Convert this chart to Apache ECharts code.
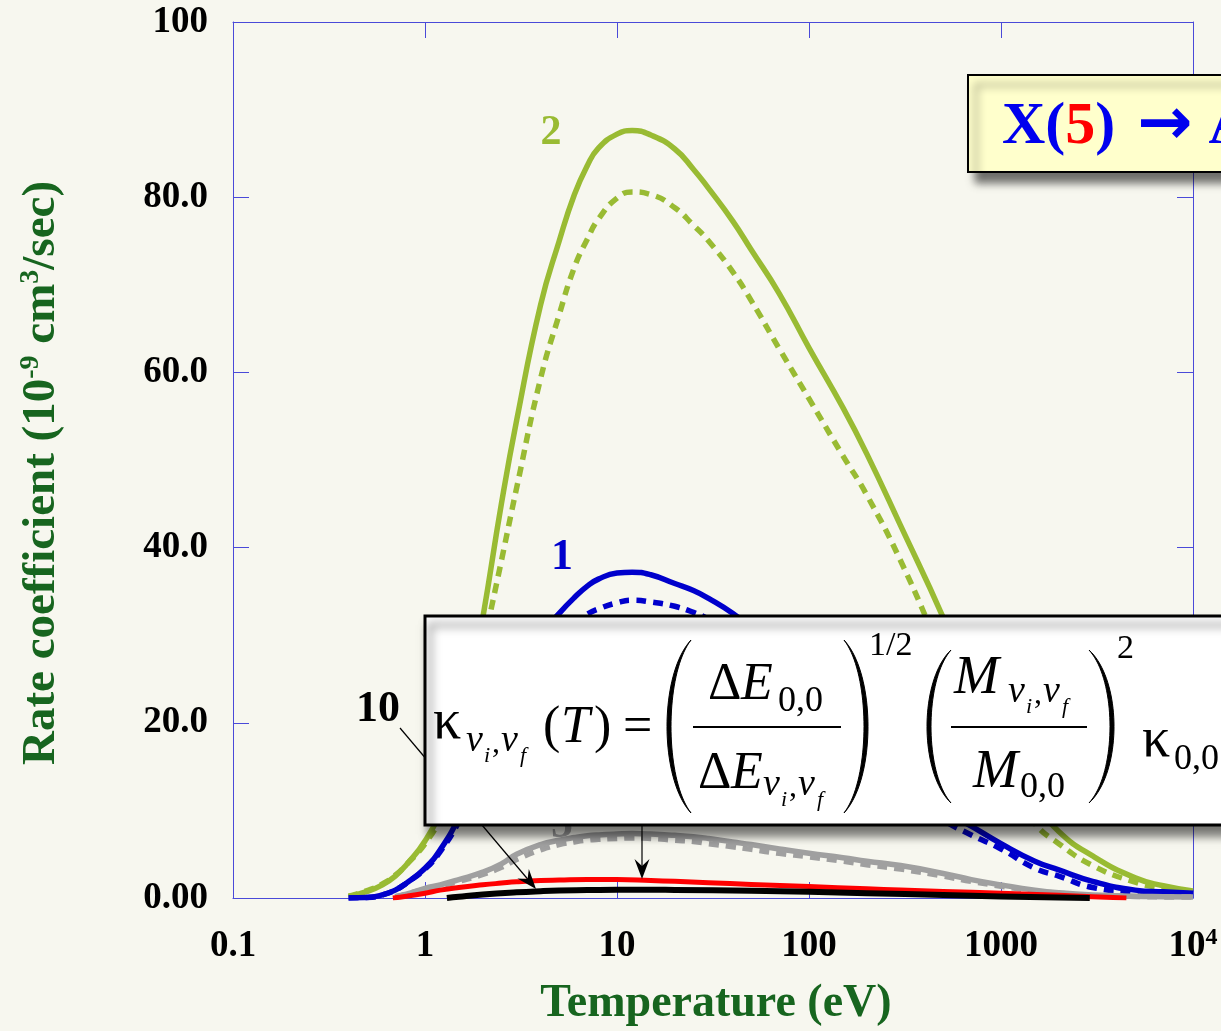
<!DOCTYPE html>
<html><head><meta charset="utf-8">
<script src="https://cdn.jsdelivr.net/npm/echarts@6/dist/echarts.min.js"></script>
<style>html,body{margin:0;padding:0;background:#f7f7ef}#c{width:1221px;height:1031px}</style>
</head><body><div id="c"></div>
<script>
// ---- data ----
const temps = [0.4, 0.5, 0.6, 0.7, 0.8, 1, 1.2, 1.5, 2, 2.5, 3, 4, 5, 6, 7, 8, 10, 12, 15, 20, 25, 30, 40, 50, 70, 100, 150, 200, 300, 500, 700, 1000, 1500, 2000, 3000, 5000, 7000, 10000];
const green2Solid = [0.15, 0.75, 1.5, 2.5, 3.8, 6.5, 10, 17, 32, 45, 54.5, 67.7, 75, 80.3, 83.6, 85.6, 87.2, 87.6, 87.1, 85.5, 83.2, 81.0, 77.3, 74.0, 69.0, 62.8, 56.0, 50.7, 42.5, 32.0, 24.0, 17.0, 11.0, 7.6, 4.8, 2.3, 1.4, 0.8];
const green2Dash  = [0.2, 0.85, 1.6, 2.6, 3.8, 6.2, 9.2, 15.5, 28.5, 38.5, 46.8, 59.3, 66.6, 72.0, 75.2, 77.5, 79.9, 80.6, 80.3, 78.8, 76.8, 75.0, 71.5, 68.2, 62.7, 57.0, 50.5, 46.0, 38.5, 27.5, 20.5, 14.0, 8.5, 6.2, 3.7, 1.8, 1.1, 0.6];
const blue1Solid  = [0, 0.05, 0.35, 0.9, 1.7, 3.4, 5.5, 9.2, 15.5, 21, 25, 30, 32.5, 34.3, 35.6, 36.4, 37.1, 37.2, 36.9, 35.9, 35.1, 34.2, 32.5, 30.8, 27.8, 24.5, 20.5, 17.5, 13.8, 10.0, 8.2, 6.2, 4.2, 3.2, 1.9, 0.9, 0.7, 0.55];
const blue1Dash   = [0, 0.05, 0.35, 0.9, 1.7, 3.3, 5.3, 8.7, 14.3, 19.3, 22.8, 27.3, 29.8, 31.4, 32.4, 33.0, 33.7, 34.0, 33.8, 33.3, 32.6, 31.8, 30.0, 28.3, 25.5, 22.3, 18.5, 15.8, 12.3, 8.9, 7.2, 5.6, 3.4, 2.5, 1.2, 0.7, 0.55, 0.45];
const gray5Solid  = [null, null, null, 0.15, 0.45, 1.1, 1.5, 2.1, 2.95, 3.9, 5.0, 6.1, 6.6, 6.9, 7.1, 7.2, 7.3, 7.35, 7.3, 7.15, 7.0, 6.8, 6.4, 6.1, 5.6, 5.1, 4.6, 4.2, 3.7, 2.8, 2.1, 1.5, 0.9, 0.6, 0.35, 0.2, 0.15, 0.1];
const gray5Dash   = [null, null, null, 0.15, 0.45, 1.0, 1.4, 1.9, 2.7, 3.5, 4.4, 5.5, 6.1, 6.4, 6.6, 6.7, 6.8, 6.85, 6.8, 6.6, 6.45, 6.2, 5.85, 5.55, 5.1, 4.7, 4.2, 3.8, 3.3, 2.5, 1.9, 1.35, 0.8, 0.55, 0.3, 0.18, 0.12, 0.1];
const redT   = [0.68, 0.8, 1, 1.2, 1.5, 2, 2.5, 3, 4, 5, 7, 10, 15, 20, 30, 50, 100, 200, 300, 500, 1000, 2000, 3000, 4500];
const redV   = [0, 0.2, 0.55, 0.9, 1.2, 1.5, 1.7, 1.85, 2.0, 2.05, 2.1, 2.1, 2.0, 1.9, 1.75, 1.55, 1.3, 1.05, 0.9, 0.75, 0.55, 0.3, 0.15, 0];
const blackT = [1.3, 1.5, 2, 3, 4, 5, 7, 10, 15, 20, 50, 100, 200, 500, 1000, 2000, 2900];
const blackV = [0, 0.15, 0.4, 0.65, 0.78, 0.85, 0.9, 0.95, 0.95, 0.92, 0.82, 0.7, 0.55, 0.35, 0.18, 0.06, 0];
const xTickLabels = ['0.1', '1', '10', '100', '1000', '10{sup|4}'];
const yTickLabels = ['0.00', '20.0', '40.0', '60.0', '80.0', '100'];

// ---- styling ----
const SERIF = '"Liberation Serif","Times New Roman",serif';
const FRAME = '#4a4ad8';
const GREEN = '#99bb33', BLUE = '#0000cc', GRAY = '#a0a0a0', RED = '#ff0000', BLACK = '#000000';
const TITLE_GREEN = '#17651f';

const pairs = (xs, ys) => xs.map((x, i) => [x, ys[i]]).filter(p => p[1] !== null);
function ser(data, color, dashed, w) {
  return { type: 'line', data, showSymbol: false, symbol: 'none', smooth: 0.5, silent: true,
    z: 2, lineStyle: { color, width: w || 5.5, type: dashed ? [10, 7] : 'solid', cap: 'butt', join: 'round' } };
}

function txt(x, base, s, str, o) {
  o = o || {};
  return { type: 'text', z: o.z || 40, silent: true, style: {
    x: x, y: base - 0.34 * s, text: str, fill: o.fill || '#000',
    font: (o.it ? 'italic ' : '') + (o.bold ? 'bold ' : '') + s + 'px ' + (o.family || SERIF),
    align: o.align || 'left', textAlign: o.align || 'left', verticalAlign: 'middle', textVerticalAlign: 'middle' } };
}
// subscript "v_i,v_f"
function vivf(x, base, z) {
  return [
    txt(x, base, 38, 'v', { it: 1, z }), txt(x + 18, base + 10, 22, 'i', { it: 1, z }),
    txt(x + 26, base, 32, ',', { z }), txt(x + 35, base, 38, 'v', { it: 1, z }),
    txt(x + 54, base + 10, 22, 'f', { it: 1, z })
  ];
}
function paren(xe, yTop, yBot, xb, t) {
  const dir = xb < xe ? 1 : -1;
  const h = yBot - yTop;
  const c1 = (xb - 0.25 * xe) / 0.75;
  const c2 = (xb + dir * t - 0.25 * xe) / 0.75;
  const y1 = yTop + 0.2 * h, y2 = yBot - 0.2 * h;
  const cub = (p0, p1, p2, p3, u) => (1 - u) ** 3 * p0 + 3 * (1 - u) ** 2 * u * p1 + 3 * (1 - u) * u * u * p2 + u ** 3 * p3;
  const pts = [];
  for (let k = 0; k <= 40; k++) { const u = k / 40; pts.push([cub(xe, c1, c1, xe, u), cub(yTop, y1, y2, yBot, u)]); }
  for (let k = 40; k >= 0; k--) { const u = k / 40; pts.push([cub(xe, c2, c2, xe, u), cub(yTop, y1, y2, yBot, u)]); }
  return { type: 'polygon', z: 40, silent: true, shape: { points: pts }, style: { fill: '#000', stroke: '#000', lineWidth: 1 } };
}
function arrowHead(tx, ty, dx, dy, z) {
  const L = Math.hypot(dx, dy); dx /= L; dy /= L;
  const nx = -dy, ny = dx, len = 20, half = 7.5, notch = 13;
  return { type: 'polygon', z, silent: true, shape: { points: [
    [tx, ty], [tx - len * dx + half * nx, ty - len * dy + half * ny],
    [tx - notch * dx, ty - notch * dy], [tx - len * dx - half * nx, ty - len * dy - half * ny]] },
    style: { fill: '#000' } };
}

const axisCommon = {
  axisLine: { show: true, onZero: false, lineStyle: { color: FRAME, width: 1 } },
  axisTick: { show: true, inside: true, length: 16, lineStyle: { color: FRAME, width: 1 } },
  minorTick: { show: false }, splitLine: { show: false }
};
const labelFont = { color: '#000', fontFamily: SERIF, fontWeight: 'bold', fontSize: 37 };

const chart = echarts.init(document.getElementById('c'), null, { renderer: 'canvas' });
const graphic = [
  // axis titles
  { type: 'text', z: 10, silent: true, style: { x: 716, y: 1004, text: 'Temperature (eV)', fill: TITLE_GREEN,
      font: 'bold 46px ' + SERIF, align: 'center', textAlign: 'center', verticalAlign: 'middle', textVerticalAlign: 'middle' } },
  { type: 'text', z: 10, silent: true, x: 42, y: 473, rotation: Math.PI / 2,
    style: { x: 0, y: 0, text: 'Rate coefficient (10{sup|-9} cm{sup|3}/sec)', fill: TITLE_GREEN,
      fontSize: 47, fontWeight: 'bold', fontFamily: SERIF, lineHeight: 50,
      align: 'center', textAlign: 'center', verticalAlign: 'middle', textVerticalAlign: 'middle',
      rich: { sup: { fontSize: 28, fontWeight: 'bold', fontFamily: SERIF, fill: TITLE_GREEN, lineHeight: 14, verticalAlign: 'top' } } } },
  // curve labels
  txt(551, 147, 42, '2', { bold: 1, fill: GREEN, align: 'center', z: 20 }),
  txt(562, 573, 44, '1', { bold: 1, fill: BLUE, align: 'center', z: 20 }),
  txt(378, 725, 44, '10', { bold: 1, fill: BLACK, align: 'center', z: 20 }),
  txt(562, 841, 44, '5', { bold: 1, fill: GRAY, align: 'center', z: 25 }),
  // annotation arrows
  { type: 'line', z: 20, silent: true, shape: { x1: 400, y1: 728, x2: 527.6, y2: 879 }, style: { stroke: '#000', lineWidth: 1.2 } },
  arrowHead(536, 889, 135, 160, 21),
  { type: 'line', z: 20, silent: true, shape: { x1: 642, y1: 800, x2: 642, y2: 866 }, style: { stroke: '#000', lineWidth: 1.2 } },
  arrowHead(642, 879, 0, 1, 21),
  // title box
  { type: 'rect', z: 30, silent: true, shape: { x: 968, y: 75, width: 320, height: 97 },
    style: { fill: '#ffffcc', stroke: '#000', lineWidth: 2, shadowBlur: 8, shadowOffsetX: 8, shadowOffsetY: 10, shadowColor: 'rgba(0,0,0,0.55)' } },
  { type: 'text', z: 40, silent: true, style: { x: 1002, y: 127, text: '{b|X(}{r|5}{b|)}{a|\u2192}{b|A}',
      align: 'left', textAlign: 'left', verticalAlign: 'middle', textVerticalAlign: 'middle',
      rich: { b: { fill: '#0000ee', fontSize: 60, fontWeight: 'bold', fontFamily: SERIF, lineHeight: 60 },
              a: { fill: '#0000ee', fontSize: 66, fontWeight: 'bold', fontFamily: '"DejaVu Sans"', lineHeight: 60, padding: [0, 16, 0, 22] },
              r: { fill: '#ff0000', fontSize: 60, fontWeight: 'bold', fontFamily: SERIF, lineHeight: 60 } } } },
  // formula box
  { type: 'rect', z: 30, silent: true, shape: { x: 425, y: 616, width: 840, height: 209 },
    style: { fill: '#ffffff', stroke: '#000', lineWidth: 3, shadowBlur: 10, shadowOffsetX: 5, shadowOffsetY: 9, shadowColor: 'rgba(0,0,0,0.55)' } },
  txt(433, 742, 56, '\u03BA'),
  ...vivf(466, 754),
  txt(543, 746, 52, '('), txt(561, 746, 52, 'T', { it: 1 }), txt(594, 746, 52, ')'),
  txt(623, 746, 52, '='),
  paren(691, 640, 813, 667, 4),
  txt(708, 703, 52, '\u0394'), txt(741, 703, 52, 'E', { it: 1 }), txt(778, 714, 36, '0,0'),
  { type: 'line', z: 40, silent: true, shape: { x1: 693, y1: 727, x2: 841, y2: 727 }, style: { stroke: '#000', lineWidth: 2 } },
  txt(698, 792, 52, '\u0394'), txt(731, 792, 52, 'E', { it: 1 }),
  ...vivf(763, 798),
  paren(844, 640, 813, 868, 4),
  txt(869, 658, 34, '1/2'),
  paren(951, 650, 803, 927, 4),
  txt(954, 697, 54, 'M', { it: 1 }),
  ...vivf(1008, 705),
  { type: 'line', z: 40, silent: true, shape: { x1: 951, y1: 727, x2: 1087, y2: 727 }, style: { stroke: '#000', lineWidth: 2 } },
  txt(973, 791, 54, 'M', { it: 1 }), txt(1020, 800, 36, '0,0'),
  paren(1089, 650, 803, 1114, 4),
  txt(1117, 661, 34, '2'),
  txt(1142, 760, 56, '\u03BA'), txt(1174, 772, 36, '0,0')
];

chart.setOption({
  animation: false,
  backgroundColor: '#f7f7ef',
  grid: { left: 233, right: 28, top: 22, bottom: 133, containLabel: false },
  xAxis: [
    Object.assign({ type: 'log', logBase: 10, min: 0.1, max: 10000, position: 'bottom',
      axisLabel: Object.assign({ margin: 28, lineHeight: 40,
        formatter: v => xTickLabels[Math.round(Math.log10(v)) + 1],
        rich: { sup: { fontSize: 24, fontWeight: 'bold', fontFamily: SERIF, color: '#000', lineHeight: 10, verticalAlign: 'top' } } }, labelFont) }, axisCommon),
    Object.assign({ type: 'log', logBase: 10, min: 0.1, max: 10000, position: 'top', axisLabel: { show: false } }, axisCommon)
  ],
  yAxis: [
    Object.assign({ type: 'value', min: 0, max: 100, interval: 20, position: 'left',
      axisLabel: Object.assign({ margin: 25, formatter: v => yTickLabels[Math.round(v / 20)] }, labelFont) }, axisCommon),
    Object.assign({ type: 'value', min: 0, max: 100, interval: 20, position: 'right', axisLabel: { show: false } }, axisCommon)
  ],
  series: [
    ser(pairs(temps, green2Dash), GREEN, true),
    ser(pairs(temps, green2Solid), GREEN, false),
    ser(pairs(temps, blue1Dash), BLUE, true),
    ser(pairs(temps, blue1Solid), BLUE, false),
    ser(pairs(temps, gray5Dash), GRAY, true),
    ser(pairs(temps, gray5Solid), GRAY, false),
    ser(pairs(redT, redV), RED, false, 5),
    ser(pairs(blackT, blackV), BLACK, false, 6)
  ],
  graphic: graphic
});
</script></body></html>
